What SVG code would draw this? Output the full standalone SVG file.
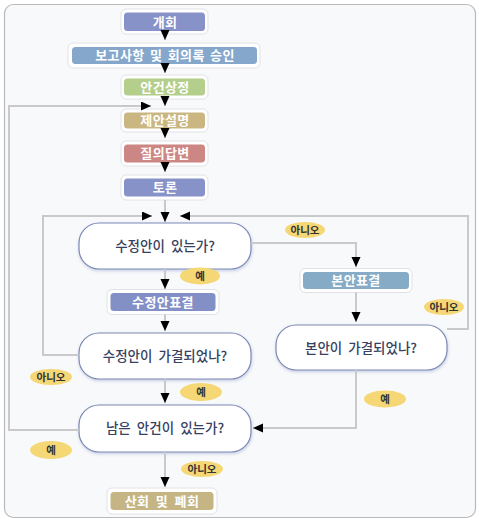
<svg xmlns="http://www.w3.org/2000/svg" width="479" height="521" viewBox="0 0 479 521">
<defs>
<marker id="ah" markerUnits="userSpaceOnUse" markerWidth="11" markerHeight="10" refX="10" refY="4.5" orient="auto">
<path d="M0,0 L10,4.5 L0,9 z" fill="#000"/>
</marker>
<filter id="sh" x="-10%" y="-20%" width="120%" height="150%">
<feDropShadow dx="0.5" dy="1.5" stdDeviation="1.5" flood-color="#8a9ac8" flood-opacity="0.45"/>
</filter>
<filter id="soft" x="-20%" y="-40%" width="140%" height="180%">
<feGaussianBlur stdDeviation="0.7"/>
</filter>
</defs>
<style>
.halo{fill:#fff;stroke:#e2e2e6;stroke-width:1}
.bt{font-family:"Noto Sans CJK KR","Noto Sans",sans-serif;font-size:13px;font-weight:bold;fill:#fff;text-anchor:middle;letter-spacing:0.4px}
.dec{fill:#fff;stroke:#7c89b6;stroke-width:1.2;filter:url(#sh)}
.dt{font-family:"Noto Sans CJK KR","Noto Sans",sans-serif;font-size:13.5px;font-weight:500;fill:#36425f;text-anchor:middle;word-spacing:3px}
.lb{fill:#f6d776;filter:url(#soft)}
.lt{font-family:"Noto Sans CJK KR","Noto Sans",sans-serif;font-size:10.5px;font-weight:bold;fill:#333;text-anchor:middle}
.ca{fill:none;stroke:#c9c9cc;stroke-width:2;marker-end:url(#ah)}
</style>
<rect x="4.5" y="4.5" width="471" height="513" rx="9" fill="#f8f9fa" stroke="#b9b9b9" stroke-width="1.2"/>

<g id="n-open">
<rect class="halo" x="121" y="9" width="87" height="25" rx="5"/>
<rect x="124" y="12.5" width="81" height="18.5" rx="3.5" fill="#8792c8"/>
<text class="bt" x="165" y="26.5">개회</text>
</g>
<g id="n-report">
<rect class="halo" x="68" y="43" width="192" height="25" rx="5"/>
<rect x="72" y="47" width="185" height="17" rx="3.5" fill="#85a7cb"/>
<text class="bt" x="165" y="60" style="word-spacing:2px">보고사항 및 회의록 승인</text>
</g>
<g id="n-agenda">
<rect class="halo" x="121" y="75" width="87" height="24" rx="5"/>
<rect x="124" y="78.5" width="81" height="17" rx="3.5" fill="#b4ce8c"/>
<text class="bt" x="165" y="91.5">안건상정</text>
</g>
<g id="n-explain">
<rect class="halo" x="121" y="109" width="87" height="23" rx="5"/>
<rect x="124" y="112.5" width="81" height="16" rx="3.5" fill="#cab680"/>
<text class="bt" x="165" y="125">제안설명</text>
</g>
<g id="n-qa">
<rect class="halo" x="121" y="141" width="87" height="25" rx="5"/>
<rect x="124" y="144.5" width="81" height="18" rx="3.5" fill="#cc8683"/>
<text class="bt" x="165" y="158">질의답변</text>
</g>
<g id="n-debate">
<rect class="halo" x="121" y="175" width="87" height="25" rx="5"/>
<rect x="124" y="178.5" width="81" height="18" rx="3.5" fill="#8792c8"/>
<text class="bt" x="165" y="192">토론</text>
</g>
<g id="n-amend-q">
<rect class="dec" x="79" y="223" width="172" height="46" rx="20"/>
<text class="dt" x="165" y="251">수정안이 있는가?</text>
</g>
<g id="n-amend-vote">
<rect class="halo" x="107" y="289.5" width="112" height="25" rx="5"/>
<rect x="110.5" y="293" width="105" height="18" rx="3.5" fill="#8390c6"/>
<text class="bt" x="163" y="306.5">수정안표결</text>
</g>
<g id="n-amend-pass">
<rect class="dec" x="79" y="333" width="172" height="46" rx="20"/>
<text class="dt" x="165" y="361">수정안이 가결되었나?</text>
</g>
<g id="n-remain">
<rect class="dec" x="79" y="405" width="172" height="47" rx="20"/>
<text class="dt" x="165" y="433">남은 안건이 있는가?</text>
</g>
<g id="n-close">
<rect class="halo" x="107" y="488" width="110" height="26" rx="5"/>
<rect x="110.5" y="492" width="103" height="18" rx="3.5" fill="#c5b585"/>
<text class="bt" x="162" y="505.5" style="word-spacing:3px">산회 및 폐회</text>
</g>
<g id="n-main-vote">
<rect class="halo" x="300" y="268.5" width="112" height="24" rx="5"/>
<rect x="303" y="272" width="106" height="17" rx="3.5" fill="#86abc6"/>
<text class="bt" x="356" y="285">본안표결</text>
</g>
<g id="n-main-pass">
<rect class="dec" x="276" y="325" width="171" height="45" rx="20"/>
<text class="dt" x="361" y="353">본안이 가결되었나?</text>
</g>

<g id="connectors">
<path class="ca" d="M165,31 L165,40"/>
<path class="ca" d="M165,64 L165,73"/>
<path class="ca" d="M165,96 L165,106"/>
<path class="ca" d="M79,430 L9,430 L9,106 L151,106"/>
<path class="ca" d="M165,129 L165,138"/>
<path class="ca" d="M165,163 L165,172"/>
<path class="ca" d="M165,200 L165,222"/>
<path class="ca" d="M79,355 L43,355 L43,216 L152,216"/>
<path class="ca" d="M447,329 L468,329 L468,216 L180,216"/>
<path class="ca" d="M251,243 L356,243 L356,267"/>
<path class="ca" d="M165,269 L165,289"/>
<path class="ca" d="M165,314.5 L165,331"/>
<path class="ca" d="M165,379 L165,403"/>
<path class="ca" d="M356,292.5 L356,322"/>
<path class="ca" d="M356,370 L356,428 L253,428"/>
<path class="ca" d="M165,452 L165,487"/>
</g>

<g id="labels">
<g id="l1"><ellipse class="lb" cx="305" cy="230" rx="20" ry="8"/><text class="lt" x="305" y="233.5">아니오</text></g>
<g id="l2"><ellipse class="lb" cx="200" cy="276" rx="20" ry="8.5"/><text class="lt" x="200" y="279.5">예</text></g>
<g id="l3"><ellipse class="lb" cx="444" cy="307" rx="20" ry="8"/><text class="lt" x="444" y="310.5">아니오</text></g>
<g id="l4"><ellipse class="lb" cx="51" cy="377" rx="21" ry="8"/><text class="lt" x="51" y="380.5">아니오</text></g>
<g id="l5"><ellipse class="lb" cx="201" cy="392" rx="21" ry="9"/><text class="lt" x="201" y="395.5">예</text></g>
<g id="l6"><ellipse class="lb" cx="385" cy="399" rx="21" ry="8.5"/><text class="lt" x="385" y="402.5">예</text></g>
<g id="l7"><ellipse class="lb" cx="51" cy="450" rx="21" ry="9"/><text class="lt" x="51" y="453.5">예</text></g>
<g id="l8"><ellipse class="lb" cx="202" cy="469" rx="21" ry="8"/><text class="lt" x="202" y="472.5">아니오</text></g>
</g>
</svg>
